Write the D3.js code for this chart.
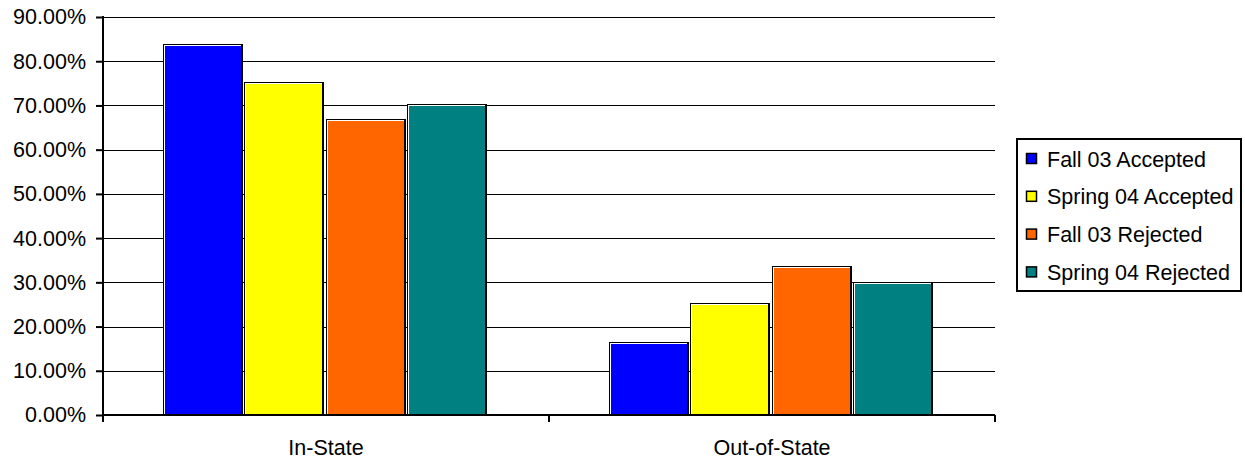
<!DOCTYPE html>
<html>
<head>
<meta charset="utf-8">
<script src="https://cdn.jsdelivr.net/npm/d3@7"></script>
<style>
  html, body { margin: 0; padding: 0; background: #fff; }
  svg { display: block; font-family: "Liberation Sans", Arial, sans-serif; }
</style>
</head>
<body>
<svg id="chart" width="1245" height="460"></svg>
<script>
const categories = ["In-State", "Out-of-State"];
const seriesNames = ["Fall 03 Accepted", "Spring 04 Accepted", "Fall 03 Rejected", "Spring 04 Rejected"];
const seriesColors = ["#0000FF", "#FFFF00", "#FF6600", "#008080"];
const fall03Accepted = [0.837, 0.163];
const spring04Accepted = [0.750, 0.250];
const fall03Rejected = [0.666, 0.334];
const spring04Rejected = [0.702, 0.298];
const seriesValues = [fall03Accepted, spring04Accepted, fall03Rejected, spring04Rejected];
const yTicks = [0, 0.1, 0.2, 0.3, 0.4, 0.5, 0.6, 0.7, 0.8, 0.9];

const svg = d3.select("#chart");
const plotLeft = 103, plotRight = 995, plotTop = 17, plotBottom = 415;
const fontSize = 21.5;

const y = d3.scaleLinear().domain([0, 0.9]).range([plotBottom, plotTop]);
const x = d3.scaleBand().domain(categories).range([plotLeft, plotRight]).padding(0);
const xs = d3.scaleBand().domain(seriesNames).range([0, x.bandwidth()]).paddingInner(0).paddingOuter(0.75);

// gridlines
svg.append("g").selectAll("line").data(yTicks.slice(1)).join("line")
  .attr("x1", plotLeft).attr("x2", plotRight)
  .attr("y1", d => Math.round(y(d)) + 0.5).attr("y2", d => Math.round(y(d)) + 0.5)
  .attr("stroke", "#000").attr("stroke-width", 1).attr("shape-rendering", "crispEdges");

// bars
const barData = [];
categories.forEach((c, ci) => {
  seriesNames.forEach((s, si) => {
    barData.push({ c, s, v: seriesValues[si][ci], color: seriesColors[si] });
  });
});
const bars = svg.append("g").attr("shape-rendering", "crispEdges").selectAll("g").data(barData).join("g");
bars.each(function(d) {
  const g = d3.select(this);
  const x0 = Math.floor(x(d.c) + xs(d.s));
  const w = Math.round(xs.bandwidth()) - 1;
  const yt = Math.round(y(d.v)) - 1;
  const h = plotBottom - yt;
  g.append("rect").attr("x", x0).attr("y", yt).attr("width", w).attr("height", h).attr("fill", "#000");
  g.append("rect").attr("x", x0 + 1).attr("y", yt + 1).attr("width", w - 3).attr("height", h - 1).attr("fill", "#fff");
  g.append("rect").attr("x", x0 + 2).attr("y", yt + 2).attr("width", w - 4).attr("height", h - 2).attr("fill", d.color);
});

// y axis
const yAxis = d3.axisLeft(y).tickValues(yTicks).tickSize(7).tickPadding(10)
  .tickFormat(d => (d * 100).toFixed(2) + "%");
const yg = svg.append("g").attr("transform", `translate(${plotLeft},0)`).call(yAxis);
yg.select(".domain").remove();
yg.selectAll(".tick line").attr("stroke", "#000").attr("stroke-width", 2);
yg.selectAll(".tick text").attr("fill", "#000").style("font-size", fontSize + "px")
  .style("font-family", "'Liberation Sans', Arial, sans-serif");
svg.append("line").attr("x1", plotLeft).attr("x2", plotLeft).attr("y1", plotTop - 1).attr("y2", plotBottom + 1)
  .attr("stroke", "#000").attr("stroke-width", 2);

// x axis
const xAxis = d3.axisBottom(x).tickSize(0).tickPadding(25);
const xg = svg.append("g").attr("transform", `translate(0,${plotBottom})`).call(xAxis);
xg.select(".domain").remove();
xg.selectAll(".tick text").attr("fill", "#000").style("font-size", fontSize + "px")
  .style("font-family", "'Liberation Sans', Arial, sans-serif");
svg.append("line").attr("x1", plotLeft - 1).attr("x2", plotRight).attr("y1", plotBottom).attr("y2", plotBottom)
  .attr("stroke", "#000").attr("stroke-width", 2);
const bounds = categories.map(c => x(c)).concat([x(categories[categories.length - 1]) + x.bandwidth()]);
svg.append("g").selectAll("line").data(bounds).join("line")
  .attr("x1", d => d).attr("x2", d => d).attr("y1", plotBottom).attr("y2", plotBottom + 7)
  .attr("stroke", "#000").attr("stroke-width", 2);

// legend
const lg = svg.append("g");
lg.append("rect").attr("x", 1017).attr("y", 139).attr("width", 224).attr("height", 152)
  .attr("fill", "#fff").attr("stroke", "#000").attr("stroke-width", 2);
const items = lg.selectAll("g.item").data(seriesNames).join("g").attr("class", "item")
  .attr("transform", (d, i) => `translate(1026, ${166.5 + i * 37.8})`);
items.append("rect").attr("x", 0.5).attr("y", -13).attr("width", 10).attr("height", 10)
  .attr("fill", (d, i) => seriesColors[i]).attr("stroke", "#000").attr("stroke-width", 1.5);
items.append("text").attr("x", 21).attr("y", 0).text(d => d)
  .style("font-size", fontSize + "px").attr("fill", "#000");
</script>
</body>
</html>
